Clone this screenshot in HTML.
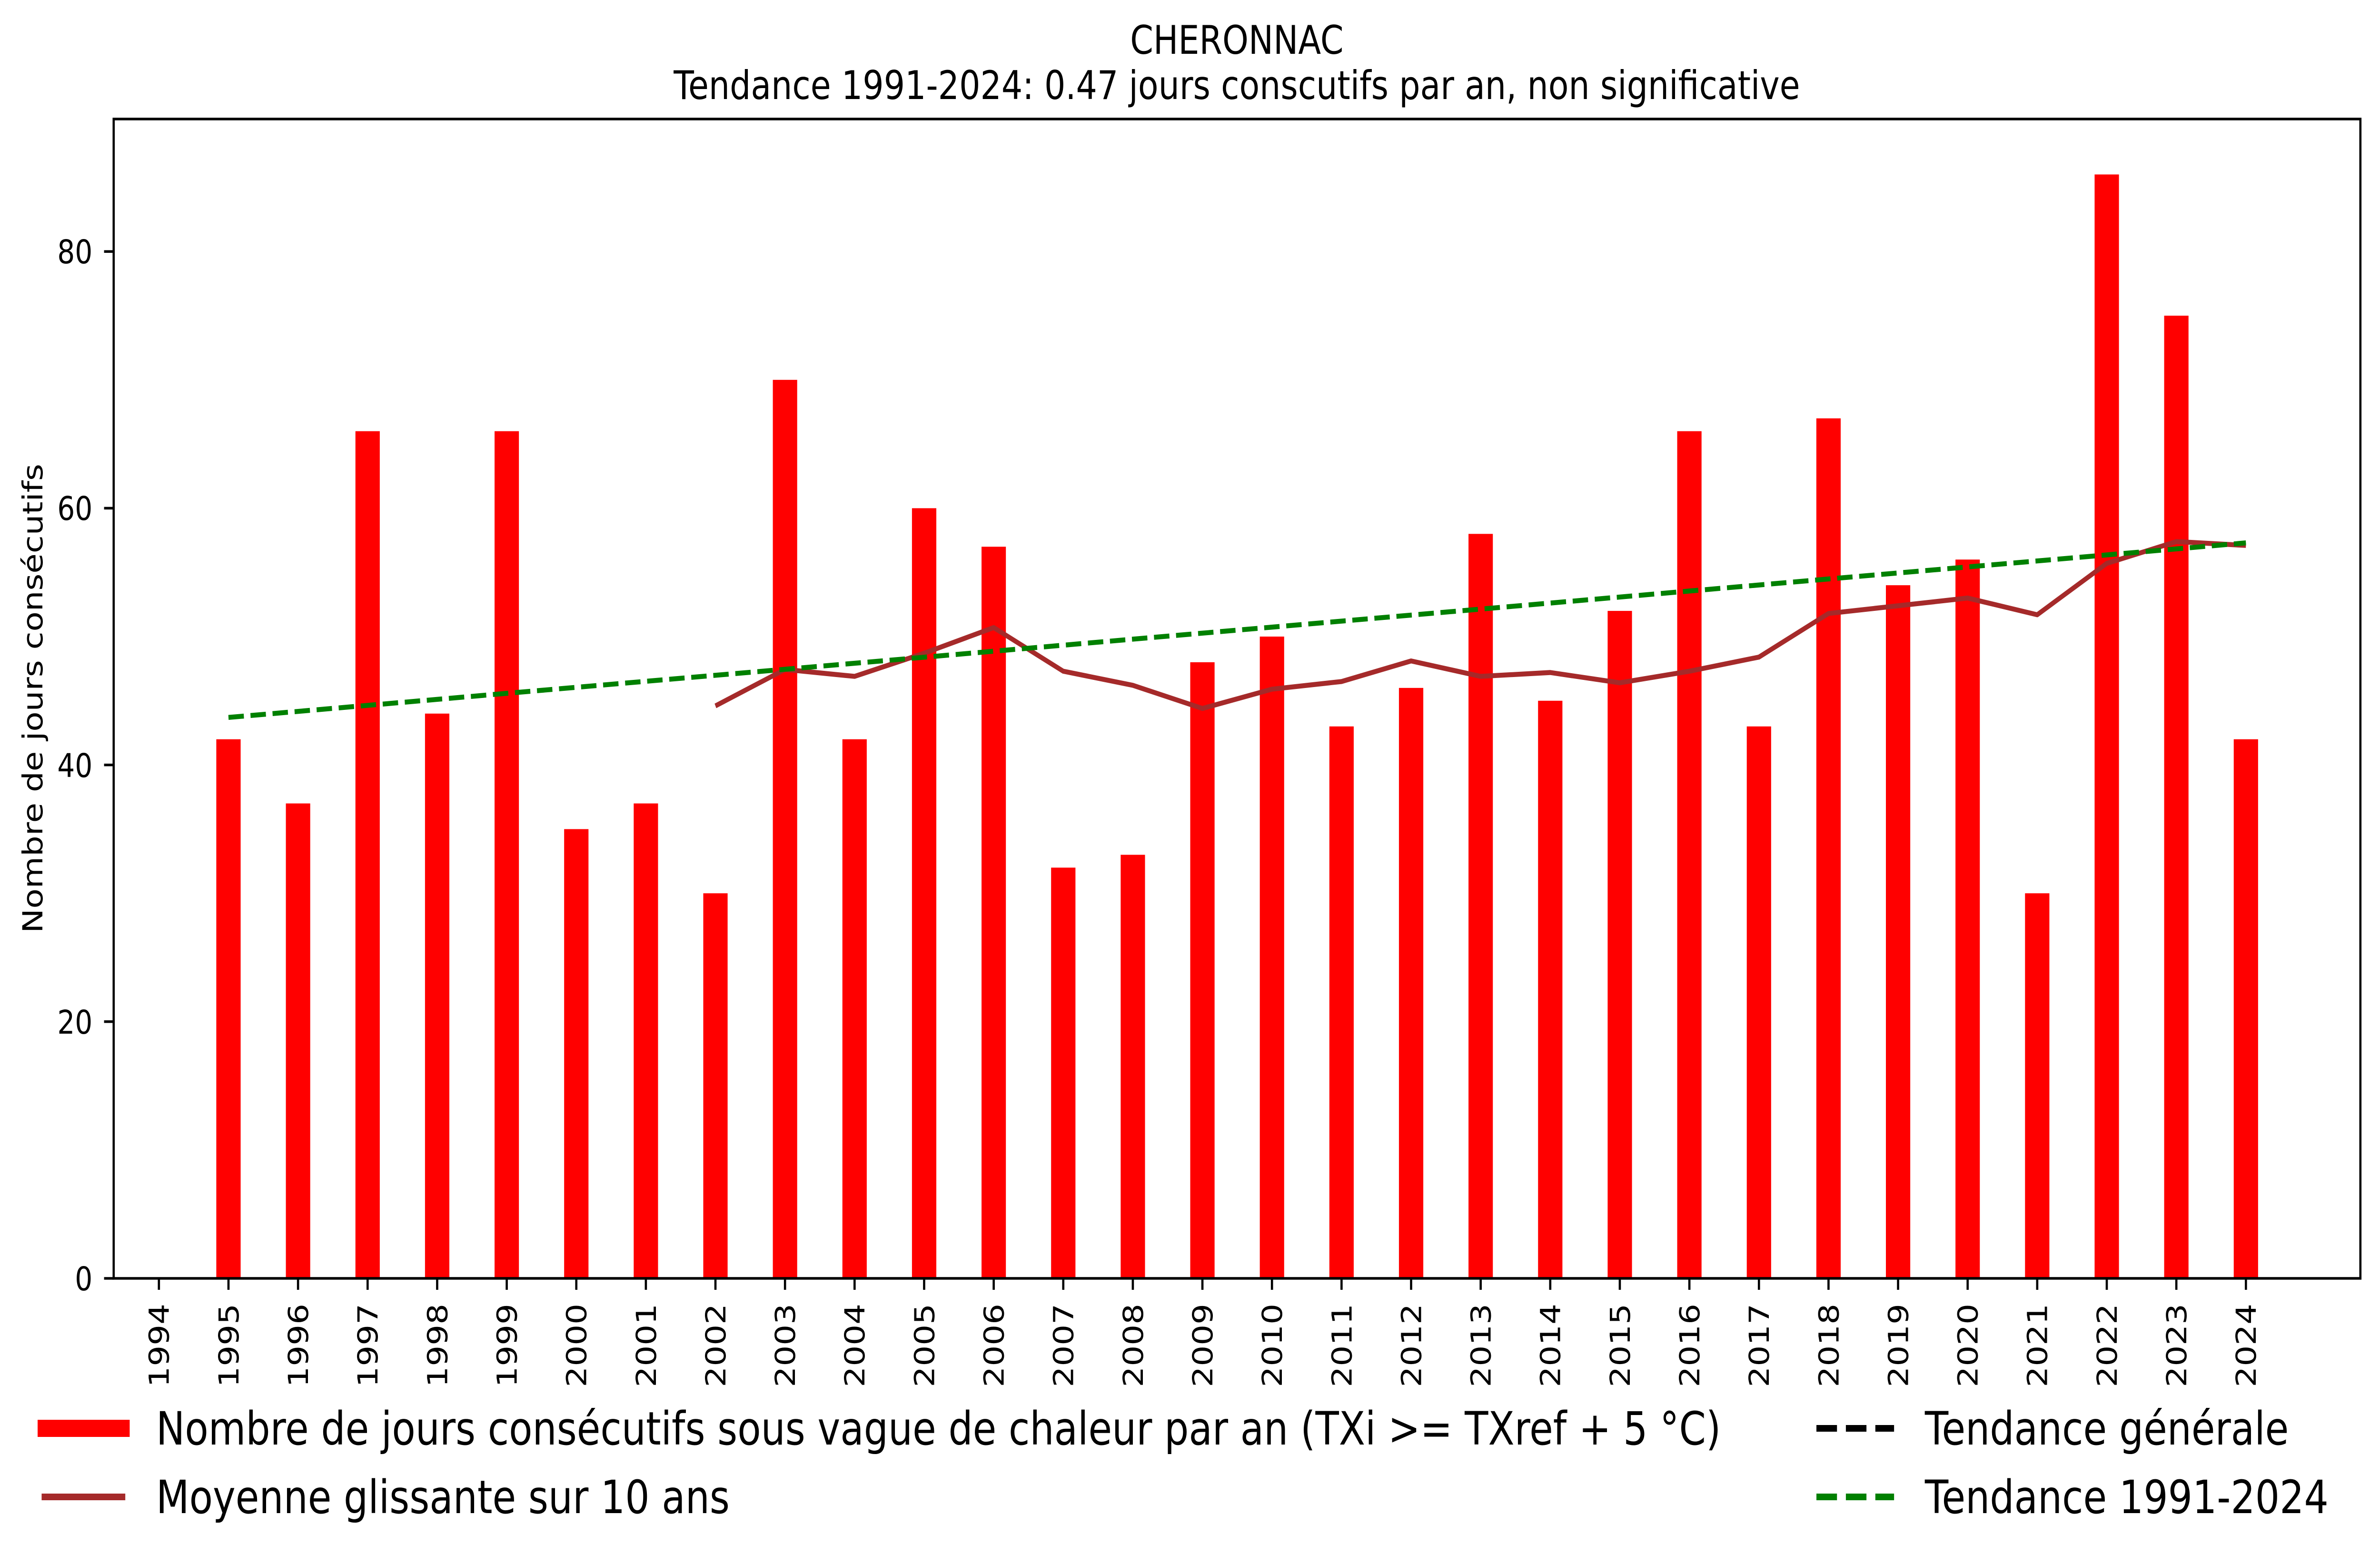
<!DOCTYPE html>
<html><head><meta charset="utf-8"><style>
html,body{margin:0;padding:0;background:#fff;width:100%;height:100%;overflow:hidden;}
svg{display:block;position:fixed;left:0;top:0;width:100vw;height:100vh;}
text{font-family:"DejaVu Sans","Liberation Sans",sans-serif;fill:#000;}
</style></head><body>
<svg viewBox="0 0 5946 3287" preserveAspectRatio="none" xmlns="http://www.w3.org/2000/svg">
<rect width="5946" height="3287" fill="#fff"/>
<text x="3090" y="113" font-size="83" text-anchor="middle">CHERONNAC</text>
<text x="3090" y="208" font-size="83" text-anchor="middle">Tendance 1991-2024: 0.47 jours conscutifs par an, non significative</text>

<g transform="translate(397,2685) scale(173.8,-26.96)" fill="#ff0000">
<rect x="0.825" y="0" width="0.35" height="42"/>
<rect x="1.825" y="0" width="0.35" height="37"/>
<rect x="2.825" y="0" width="0.35" height="66"/>
<rect x="3.825" y="0" width="0.35" height="44"/>
<rect x="4.825" y="0" width="0.35" height="66"/>
<rect x="5.825" y="0" width="0.35" height="35"/>
<rect x="6.825" y="0" width="0.35" height="37"/>
<rect x="7.825" y="0" width="0.35" height="30"/>
<rect x="8.825" y="0" width="0.35" height="70"/>
<rect x="9.825" y="0" width="0.35" height="42"/>
<rect x="10.825" y="0" width="0.35" height="60"/>
<rect x="11.825" y="0" width="0.35" height="57"/>
<rect x="12.825" y="0" width="0.35" height="32"/>
<rect x="13.825" y="0" width="0.35" height="33"/>
<rect x="14.825" y="0" width="0.35" height="48"/>
<rect x="15.825" y="0" width="0.35" height="50"/>
<rect x="16.825" y="0" width="0.35" height="43"/>
<rect x="17.825" y="0" width="0.35" height="46"/>
<rect x="18.825" y="0" width="0.35" height="58"/>
<rect x="19.825" y="0" width="0.35" height="45"/>
<rect x="20.825" y="0" width="0.35" height="52"/>
<rect x="21.825" y="0" width="0.35" height="66"/>
<rect x="22.825" y="0" width="0.35" height="43"/>
<rect x="23.825" y="0" width="0.35" height="67"/>
<rect x="24.825" y="0" width="0.35" height="54"/>
<rect x="25.825" y="0" width="0.35" height="56"/>
<rect x="26.825" y="0" width="0.35" height="30"/>
<rect x="27.825" y="0" width="0.35" height="86"/>
<rect x="28.825" y="0" width="0.35" height="75"/>
<rect x="29.825" y="0" width="0.35" height="42"/>
</g>

<polyline fill="none" stroke="#a52a2a" stroke-width="10.4" stroke-linejoin="round" points="1787.4,1482.6 1961.2,1406.0 2135.0,1420.6 2308.8,1372.0 2482.6,1318.1 2656.4,1409.8 2830.2,1439.4 3004.0,1488.0 3177.8,1447.5 3351.6,1431.4 3525.4,1388.2 3699.2,1420.6 3873.0,1412.5 4046.8,1434.1 4220.6,1409.8 4394.4,1380.1 4568.2,1288.5 4742.0,1272.3 4915.8,1256.1 5089.6,1291.2 5263.4,1183.3 5437.2,1137.5 5611.0,1145.6"/>
<line x1="570.8" y1="1506.8" x2="5611" y2="1140.2" stroke="#008000" stroke-width="10.4" stroke-dasharray="38.5,16.7"/>

<rect x="284" y="250" width="5613" height="2435" fill="none" stroke="#000" stroke-width="5.5"/>

<g stroke="#000" stroke-width="5.5">
<line x1="260" y1="2685" x2="284" y2="2685"/>
<line x1="260" y1="2145.8" x2="284" y2="2145.8"/>
<line x1="260" y1="1606.6" x2="284" y2="1606.6"/>
<line x1="260" y1="1067.4" x2="284" y2="1067.4"/>
<line x1="260" y1="528.2" x2="284" y2="528.2"/>
</g>
<g font-size="69" text-anchor="end">
<text x="231" y="2710">0</text>
<text x="231" y="2171">20</text>
<text x="231" y="1632">40</text>
<text x="231" y="1092">60</text>
<text x="231" y="553">80</text>
</g>
<text transform="translate(106,1467) rotate(-90)" font-size="69" text-anchor="middle">Nombre de jours consécutifs</text>

<g stroke="#000" stroke-width="5.5">
<line x1="397" y1="2685" x2="397" y2="2709"/><line x1="570.8" y1="2685" x2="570.8" y2="2709"/><line x1="744.6" y1="2685" x2="744.6" y2="2709"/><line x1="918.4" y1="2685" x2="918.4" y2="2709"/><line x1="1092.2" y1="2685" x2="1092.2" y2="2709"/><line x1="1266" y1="2685" x2="1266" y2="2709"/><line x1="1439.8" y1="2685" x2="1439.8" y2="2709"/><line x1="1613.6" y1="2685" x2="1613.6" y2="2709"/><line x1="1787.4" y1="2685" x2="1787.4" y2="2709"/><line x1="1961.2" y1="2685" x2="1961.2" y2="2709"/><line x1="2135" y1="2685" x2="2135" y2="2709"/><line x1="2308.8" y1="2685" x2="2308.8" y2="2709"/><line x1="2482.6" y1="2685" x2="2482.6" y2="2709"/><line x1="2656.4" y1="2685" x2="2656.4" y2="2709"/><line x1="2830.2" y1="2685" x2="2830.2" y2="2709"/><line x1="3004" y1="2685" x2="3004" y2="2709"/><line x1="3177.8" y1="2685" x2="3177.8" y2="2709"/><line x1="3351.6" y1="2685" x2="3351.6" y2="2709"/><line x1="3525.4" y1="2685" x2="3525.4" y2="2709"/><line x1="3699.2" y1="2685" x2="3699.2" y2="2709"/><line x1="3873" y1="2685" x2="3873" y2="2709"/><line x1="4046.8" y1="2685" x2="4046.8" y2="2709"/><line x1="4220.6" y1="2685" x2="4220.6" y2="2709"/><line x1="4394.4" y1="2685" x2="4394.4" y2="2709"/><line x1="4568.2" y1="2685" x2="4568.2" y2="2709"/><line x1="4742" y1="2685" x2="4742" y2="2709"/><line x1="4915.8" y1="2685" x2="4915.8" y2="2709"/><line x1="5089.6" y1="2685" x2="5089.6" y2="2709"/><line x1="5263.4" y1="2685" x2="5263.4" y2="2709"/><line x1="5437.2" y1="2685" x2="5437.2" y2="2709"/><line x1="5611" y1="2685" x2="5611" y2="2709"/>
</g>
<g font-size="69" text-anchor="end">
<text transform="translate(397,2738) rotate(-90)" dy="0.36em">1994</text>
<text transform="translate(570.8,2738) rotate(-90)" dy="0.36em">1995</text>
<text transform="translate(744.6,2738) rotate(-90)" dy="0.36em">1996</text>
<text transform="translate(918.4,2738) rotate(-90)" dy="0.36em">1997</text>
<text transform="translate(1092.2,2738) rotate(-90)" dy="0.36em">1998</text>
<text transform="translate(1266,2738) rotate(-90)" dy="0.36em">1999</text>
<text transform="translate(1439.8,2738) rotate(-90)" dy="0.36em">2000</text>
<text transform="translate(1613.6,2738) rotate(-90)" dy="0.36em">2001</text>
<text transform="translate(1787.4,2738) rotate(-90)" dy="0.36em">2002</text>
<text transform="translate(1961.2,2738) rotate(-90)" dy="0.36em">2003</text>
<text transform="translate(2135,2738) rotate(-90)" dy="0.36em">2004</text>
<text transform="translate(2308.8,2738) rotate(-90)" dy="0.36em">2005</text>
<text transform="translate(2482.6,2738) rotate(-90)" dy="0.36em">2006</text>
<text transform="translate(2656.4,2738) rotate(-90)" dy="0.36em">2007</text>
<text transform="translate(2830.2,2738) rotate(-90)" dy="0.36em">2008</text>
<text transform="translate(3004,2738) rotate(-90)" dy="0.36em">2009</text>
<text transform="translate(3177.8,2738) rotate(-90)" dy="0.36em">2010</text>
<text transform="translate(3351.6,2738) rotate(-90)" dy="0.36em">2011</text>
<text transform="translate(3525.4,2738) rotate(-90)" dy="0.36em">2012</text>
<text transform="translate(3699.2,2738) rotate(-90)" dy="0.36em">2013</text>
<text transform="translate(3873,2738) rotate(-90)" dy="0.36em">2014</text>
<text transform="translate(4046.8,2738) rotate(-90)" dy="0.36em">2015</text>
<text transform="translate(4220.6,2738) rotate(-90)" dy="0.36em">2016</text>
<text transform="translate(4394.4,2738) rotate(-90)" dy="0.36em">2017</text>
<text transform="translate(4568.2,2738) rotate(-90)" dy="0.36em">2018</text>
<text transform="translate(4742,2738) rotate(-90)" dy="0.36em">2019</text>
<text transform="translate(4915.8,2738) rotate(-90)" dy="0.36em">2020</text>
<text transform="translate(5089.6,2738) rotate(-90)" dy="0.36em">2021</text>
<text transform="translate(5263.4,2738) rotate(-90)" dy="0.36em">2022</text>
<text transform="translate(5437.2,2738) rotate(-90)" dy="0.36em">2023</text>
<text transform="translate(5611,2738) rotate(-90)" dy="0.36em">2024</text>
</g>

<rect x="94" y="2982" width="230" height="36" fill="#ff0000"/>
<line x1="104" y1="3144" x2="313" y2="3144" stroke="#a52a2a" stroke-width="13.9"/>
<g font-size="96">
<text x="390" y="3034">Nombre de jours consécutifs sous vague de chaleur par an (TXi &gt;= TXref + 5 °C)</text>
<text x="390" y="3178">Moyenne glissante sur 10 ans</text>
<text x="4809" y="3034">Tendance générale</text>
<text x="4809" y="3178">Tendance 1991-2024</text>
</g>
<line x1="4538" y1="3000" x2="4732" y2="3000" stroke="#000" stroke-width="13.9" stroke-dasharray="51.4,22.2"/>
<line x1="4538" y1="3144" x2="4732" y2="3144" stroke="#008000" stroke-width="13.9" stroke-dasharray="51.4,22.2"/>
</svg>
</body></html>
